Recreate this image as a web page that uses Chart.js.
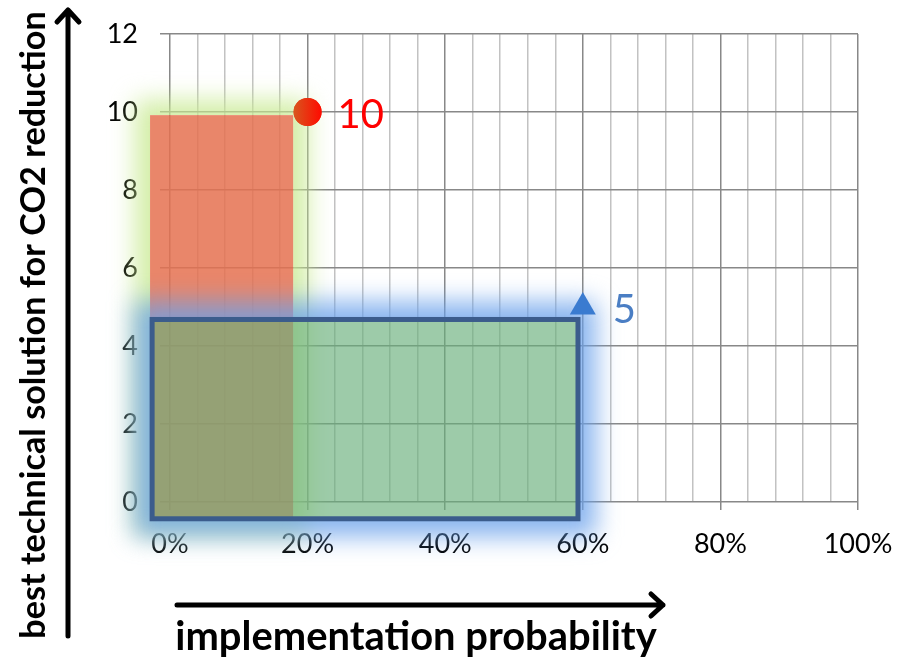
<!DOCTYPE html>
<html>
<head>
    <title>implementation probability</title>
    <script src="https://cdn.jsdelivr.net/npm/chart.js"></script>
    <style>
        body { margin: 0; background: #fff; }
        #wrap { width: 904px; height: 661px; }
    </style>
</head>
<body>
    <div id="wrap"><canvas id="matrix"></canvas></div>

    <script>
        // data (x in %, y in points)
        const redPoints = [{ x: 20, y: 10 }];
        const bluePoints = [{ x: 60, y: 5 }];
        const xTickLabels = ['0%', '20%', '40%', '60%', '80%', '100%'];
        const yTickValues = [0, 2, 4, 6, 8, 10, 12];

        // shaded areas: [x from, x to, y from, y to]
        const technicalArea = [-2.9, 17.9, -0.43, 9.92];
        const implementationArea = [-2.6, 59.3, -0.43, 4.68];

        const xTitle = 'implementation probability';
        const yTitle = 'best technical solution for CO2 reduction';

        const FONT = 'Lato, "Open Sans", sans-serif';

        function areaBox(chart, a) {
            const x = chart.scales.x, y = chart.scales.y;
            const l = x.getPixelForValue(a[0]), r = x.getPixelForValue(a[1]);
            const t = y.getPixelForValue(a[3]), b = y.getPixelForValue(a[2]);
            return { l, t, w: r - l, h: b - t };
        }

        // soft outer glow, kept out of the box itself
        function glow(ctx, box, color, spread, blur, w, h) {
            ctx.save();
            ctx.beginPath();
            ctx.rect(0, 0, w, h);
            ctx.rect(box.l, box.t, box.w, box.h);
            ctx.clip('evenodd');
            ctx.filter = 'blur(' + blur + 'px)';
            ctx.fillStyle = color;
            ctx.fillRect(box.l - spread, box.t - spread, box.w + spread * 2, box.h + spread * 2);
            ctx.restore();
        }

        function fitFont(ctx, text, width) {
            ctx.font = 'bold 30px ' + FONT;
            const size = 30 * width / ctx.measureText(text).width;
            return 'bold ' + size.toFixed(1) + 'px ' + FONT;
        }

        const areasPlugin = {
            id: 'areas',
            beforeDraw(chart) {
                const ctx = chart.ctx;
                ctx.save();
                ctx.fillStyle = '#fff';
                ctx.fillRect(0, 0, chart.width, chart.height);
                ctx.restore();
            },
            beforeDatasetsDraw(chart) {
                const ctx = chart.ctx;
                const W = chart.width, H = chart.height;
                ctx.save();
                const tech = areaBox(chart, technicalArea);
                glow(ctx, tech, 'rgba(200,234,145,0.8)', 15, 12, W, H);
                ctx.fillStyle = 'rgba(229,113,80,0.85)';
                ctx.fillRect(tech.l, tech.t, tech.w, tech.h);

                const impl = areaBox(chart, implementationArea);
                glow(ctx, impl, 'rgba(105,160,234,0.78)', 18, 12, W, H);
                ctx.fillStyle = 'rgba(104,175,123,0.65)';
                ctx.fillRect(impl.l, impl.t, impl.w, impl.h);

                ctx.strokeStyle = '#3B5C8C';
                ctx.lineWidth = 5;
                ctx.strokeRect(impl.l, impl.t, impl.w, impl.h);
                ctx.restore();
            },
            afterDraw(chart) {
                const ctx = chart.ctx;
                ctx.save();
                ctx.fillStyle = '#000';
                ctx.strokeStyle = '#000';
                ctx.lineWidth = 5;
                ctx.lineCap = 'round';
                ctx.lineJoin = 'round';

                // y arrow
                ctx.beginPath();
                ctx.moveTo(68, 636); ctx.lineTo(68, 10);
                ctx.moveTo(57, 22); ctx.lineTo(68, 10); ctx.lineTo(79, 22);
                ctx.stroke();

                // x arrow
                ctx.beginPath();
                ctx.moveTo(177, 605); ctx.lineTo(663, 605);
                ctx.moveTo(651, 594); ctx.lineTo(663, 605); ctx.lineTo(651, 616);
                ctx.stroke();

                ctx.textAlign = 'center';
                ctx.textBaseline = 'alphabetic';
                ctx.font = fitFont(ctx, xTitle, 482);
                ctx.fillText(xTitle, 416, 650);

                ctx.translate(45, 325);
                ctx.rotate(-Math.PI / 2);
                ctx.font = fitFont(ctx, yTitle, 628);
                ctx.fillText(yTitle, 0, 0);
                ctx.restore();
            },
            afterDatasetsDraw(chart) {
                const ctx = chart.ctx;
                ctx.save();
                // shade the red dot: orange on the left, pure red on the right
                chart.getDatasetMeta(0).data.forEach(pt => {
                    const r = pt.options.radius;
                    const g = ctx.createLinearGradient(pt.x - r, 0, pt.x + r, 0);
                    g.addColorStop(0, '#D8561E');
                    g.addColorStop(1, '#FF0A00');
                    ctx.fillStyle = g;
                    ctx.beginPath();
                    ctx.arc(pt.x, pt.y, r, 0, Math.PI * 2);
                    ctx.fill();
                });

                ctx.font = '40px ' + FONT;
                ctx.textAlign = 'left';
                ctx.textBaseline = 'middle';
                chart.data.datasets.forEach((ds, i) => {
                    chart.getDatasetMeta(i).data.forEach((pt, j) => {
                        ctx.fillStyle = ds.labelColor;
                        ctx.fillText(String(ds.data[j].y), pt.x + 30, pt.y + 3);
                    });
                });
                ctx.restore();
            }
        };

        const isMajor = v => Math.round(v) % 20 === 0;

        const chart = new Chart(document.getElementById('matrix'), {
            type: 'scatter',
            data: {
                datasets: [{
                    label: 'red',
                    data: redPoints,
                    pointStyle: 'circle',
                    pointRadius: 14,
                    pointBackgroundColor: '#EE2C10',
                    pointBorderWidth: 0,
                    labelColor: '#FF0000'
                }, {
                    label: 'blue',
                    data: bluePoints,
                    pointStyle: 'triangle',
                    pointRadius: 15,
                    pointBackgroundColor: '#3A7BD0',
                    pointBorderWidth: 0,
                    labelColor: '#4A7EC4'
                }]
            },
            options: {
                responsive: true,
                maintainAspectRatio: false,
                animation: false,
                layout: { padding: { top: 34, right: 46, left: 0, bottom: 0 } },
                plugins: { legend: { display: false }, tooltip: { enabled: false } },
                scales: {
                    x: {
                        type: 'linear', min: 0, max: 100,
                        ticks: {
                            stepSize: 4, autoSkip: false, maxRotation: 0, padding: 18,
                            color: '#000', font: { family: FONT, size: 27 },
                            callback: v => isMajor(v) ? xTickLabels[Math.round(v) / 20] : ''
                        },
                        grid: {
                            lineWidth: 1.5, tickLength: 8,
                            color: c => isMajor(c.tick.value) ? '#888888' : '#C2C2C2',
                            tickColor: c => isMajor(c.tick.value) ? '#888888' : 'rgba(0,0,0,0)'
                        },
                        border: { display: false },
                        afterFit: s => { s.height = 159; s.paddingLeft = 0; s.paddingRight = 0; }
                    },
                    y: {
                        min: 0, max: 12,
                        afterBuildTicks: s => { s.ticks = yTickValues.map(v => ({ value: v })); },
                        ticks: {
                            padding: 22, color: '#000', font: { family: FONT, size: 27 }
                        },
                        grid: { lineWidth: 1.5, tickLength: 10, color: '#888888' },
                        border: { display: false },
                        afterFit: s => { s.width = 170; s.paddingTop = 0; s.paddingBottom = 0; }
                    }
                }
            },
            plugins: [areasPlugin]
        });
    </script>
</body>
</html>
